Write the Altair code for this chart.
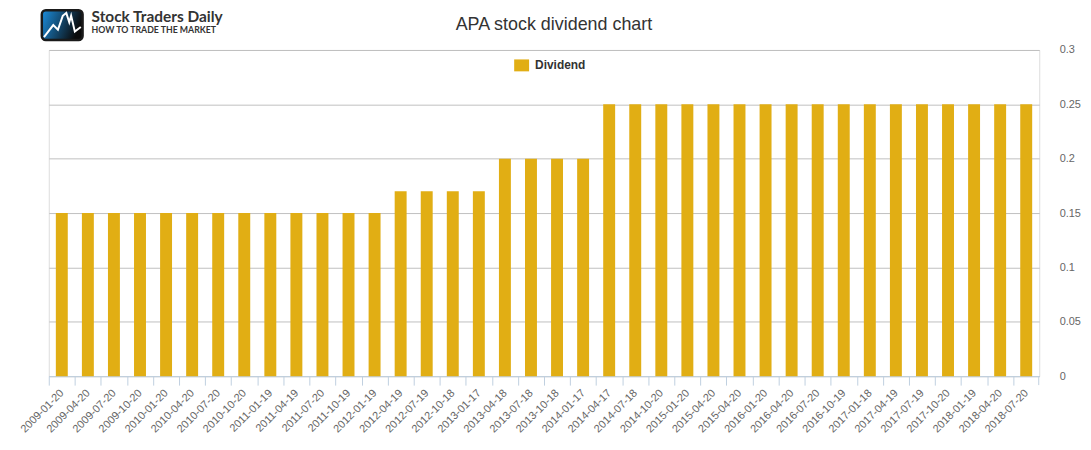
import json
import altair as alt
import pandas as pd

# ---- data ----
dates = [
    "2009-01-20", "2009-04-20", "2009-07-20", "2009-10-20",
    "2010-01-20", "2010-04-20", "2010-07-20", "2010-10-20",
    "2011-01-19", "2011-04-19", "2011-07-20", "2011-10-19",
    "2012-01-19", "2012-04-19", "2012-07-19", "2012-10-18",
    "2013-01-17", "2013-04-18", "2013-07-18", "2013-10-18",
    "2014-01-17", "2014-04-17", "2014-07-18", "2014-10-20",
    "2015-01-20", "2015-04-20", "2015-04-20", "2016-01-20",
    "2016-04-20", "2016-07-20", "2016-10-19", "2017-01-18",
    "2017-04-19", "2017-07-19", "2017-10-20", "2018-01-19",
    "2018-04-20", "2018-07-20",
]
dividends = [
    0.15, 0.15, 0.15, 0.15,
    0.15, 0.15, 0.15, 0.15,
    0.15, 0.15, 0.15, 0.15,
    0.15, 0.17, 0.17, 0.17,
    0.17, 0.20, 0.20, 0.20,
    0.20, 0.25, 0.25, 0.25,
    0.25, 0.25, 0.25, 0.25,
    0.25, 0.25, 0.25, 0.25,
    0.25, 0.25, 0.25, 0.25,
    0.25, 0.25,
]
y_ticks = [0, 0.05, 0.1, 0.15, 0.2, 0.25, 0.3]
series_name = "Dividend"
title_text = "APA stock dividend chart"
brand_name = "Stock Traders Daily"
brand_tag = "HOW TO TRADE THE MARKET"

# ---- layout ----
W, H = 996, 328
n = len(dates)
step = W / n
FONT = "Liberation Sans"
BAR = "#E1AE14"
AXIS_COLOR = "#C0D0E0"

df = pd.DataFrame({
    "idx": list(range(n)),
    "date": dates,
    "dividend": dividends,
    "series": [series_name] * n,
})
label_expr = json.dumps(dates) + "[datum.value]"

bars = alt.Chart(df).mark_bar(color=BAR).encode(
    x=alt.X(
        "idx:O",
        scale=alt.Scale(paddingInner=0.542, paddingOuter=0.271),
        axis=alt.Axis(
            title=None, labelExpr=label_expr, labelAngle=-45,
            labelAlign="right", labelBaseline="middle",
            tickOffset=-step / 2, labelOffset=step / 2,
            tickSize=9, tickColor=AXIS_COLOR, domainColor=AXIS_COLOR,
            labelColor="#666666", labelFontSize=11, labelFont=FONT,
            labelPadding=6, grid=False, labelOverlap=False,
        ),
    ),
    y=alt.Y(
        "dividend:Q",
        scale=alt.Scale(domain=[0, 0.3], nice=False),
        axis=alt.Axis(
            orient="right", title=None, values=y_ticks, format="~g",
            domain=False, ticks=False, grid=True, gridColor="#C0C0C0",
            gridWidth=1, labelPadding=20, labelColor="#666666",
            labelFontSize=11, labelFont=FONT,
        ),
    ),
    color=alt.Color(
        "series:N",
        scale=alt.Scale(domain=[series_name], range=[BAR]),
        legend=alt.Legend(
            title=None, orient="none", legendX=468, legendY=8,
            symbolType="M-1,-0.8H1V0.8H-1Z", symbolSize=225,
            symbolStrokeWidth=0, labelFontWeight="bold", labelFontSize=12,
            labelColor="#333333", labelFont=FONT, labelOffset=6, padding=0,
        ),
    ),
)

one = pd.DataFrame({"k": [0]})

# closing tick at the right end of the category axis
end_tick = alt.Chart(one).mark_rule(color=AXIS_COLOR, strokeWidth=1).encode(
    x=alt.value(W - 0.5), y=alt.value(H), y2=alt.value(H + 9)
)

logo_box = alt.Chart(one).mark_rect(
    fill={
        "gradient": "linear", "x1": 0, "y1": 0, "x2": 1, "y2": 0.3,
        "stops": [
            {"offset": 0, "color": "#1C8FDF"},
            {"offset": 1, "color": "#0B0B0B"},
        ],
    },
    stroke="#1A1A1A", strokeWidth=2.5, cornerRadius=4,
).encode(x=alt.value(-7), x2=alt.value(34), y=alt.value(-40), y2=alt.value(-10))

zig = "M-0.98,0.65L-0.48,0L-0.23,0.25L0.03,-0.5L0.22,-0.65L0.38,-0.15L0.48,-0.5L0.68,0.35L1.0,0.1"
logo_line = alt.Chart(one).mark_point(
    shape=zig, size=1400, filled=False, stroke="white", strokeWidth=2, opacity=1,
).encode(x=alt.value(13.5), y=alt.value(-25))

brand = alt.Chart(one).mark_text(
    text=brand_name, align="left", baseline="alphabetic", font="Lato",
    fontSize=15.5, fontWeight="bold", color="#333333",
).encode(x=alt.value(43), y=alt.value(-28))

tag = alt.Chart(one).mark_text(
    text=brand_tag, align="left", baseline="alphabetic", font="Lato",
    fontSize=8.8, fontWeight="bold", color="#333333",
).encode(x=alt.value(43), y=alt.value(-17))

title = alt.Chart(one).mark_text(
    text=title_text, align="center", baseline="alphabetic", font=FONT,
    fontSize=18, fontWeight="normal", color="#333333",
).encode(x=alt.value(508), y=alt.value(-20))

chart = alt.layer(bars, end_tick, logo_box, logo_line, brand, tag, title).properties(
    width=W, height=H,
    autosize=alt.AutoSizeParams(type="none"),
    padding={"left": 41, "top": 41, "right": 44, "bottom": 64},
).configure_view(stroke=None).configure(background="white")

chart.save("out.html", embed_options={"renderer": "svg", "actions": False})
